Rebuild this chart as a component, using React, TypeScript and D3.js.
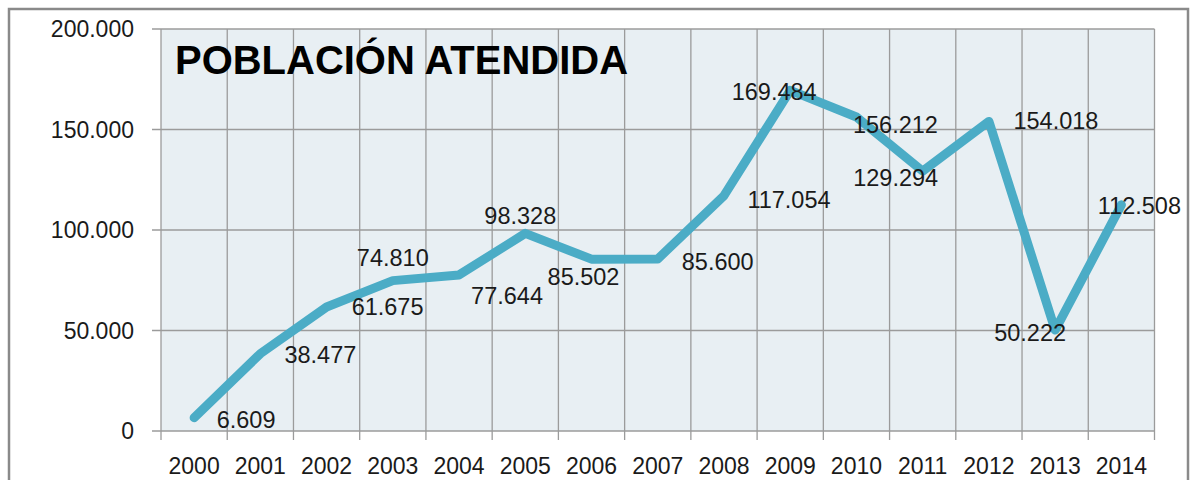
import React from "react";
import * as d3 from "d3";

const years = ["2000","2001","2002","2003","2004","2005","2006","2007","2008","2009","2010","2011","2012","2013","2014"];
const values = [6609, 38477, 61675, 74810, 77644, 98328, 85502, 85600, 117054, 169484, 156212, 129294, 154018, 50222, 112508];
const yTicks = [0, 50000, 100000, 150000, 200000];
const title = "POBLACIÓN ATENDIDA";
// label offsets (dx, dy) relative to point, in px
const labelDx = [52, 60, 61, 0, 48, -5, -8, 60, 65, -16, 39, -27, 67, -25, 18];
const labelDy = [2, 1, 0, -23, 21, -17, 18, 3, 4, 2, 8, 7, 0, 3, 1];

const fmt = (v: number) => {
  const s = Math.round(v).toString();
  return s.replace(/\B(?=(\d{3})+(?!\d))/g, ".");
};

export default function App() {
  const W = 1193, H = 480;
  const left = 161, right = 1154.5, top = 29, bottom = 431;
  const x = d3.scaleBand<string>().domain(years).range([left, right]).padding(0);
  const y = d3.scaleLinear().domain([0, 200000]).range([bottom, top]);
  const cx = (i: number) => (x(years[i]) as number) + x.bandwidth() / 2;
  const line = d3.line<number>().x((_, i) => cx(i)).y((d) => y(d));
  const boundaries = years.map((yr) => x(yr) as number).concat([right]);
  const font = "'Liberation Sans', Arial, sans-serif";
  const grid = "#9b9b9b";
  return (
    <svg width={W} height={H} style={{ position: "absolute", left: 0, top: 0 }} fontFamily={font}>
      <rect x={0} y={0} width={W} height={H} fill="#fff" />
      <rect x={9} y={9} width={1179} height={500} fill="#fff" stroke="#8a8a8a" strokeWidth={2.5} />
      <rect x={left} y={top} width={right - left} height={bottom - top} fill="#E8EFF3" />
      {yTicks.map((t) => (
        <g key={t}>
          <line x1={152} x2={right} y1={y(t)} y2={y(t)} stroke={grid} strokeWidth={1.3} />
          <text x={134} y={y(t)} textAnchor="end" dominantBaseline="central" fontSize={23} fill="#1a1a1a">{fmt(t)}</text>
        </g>
      ))}
      {boundaries.map((b, i) => (
        <line key={i} x1={b} x2={b} y1={top} y2={bottom + 9} stroke={grid} strokeWidth={1.3} />
      ))}
      {years.map((yr, i) => (
        <text key={yr} x={cx(i)} y={474} textAnchor="middle" fontSize={23} fill="#1a1a1a">{yr}</text>
      ))}
      <text x={175} y={73.5} fontSize={41} fontWeight="bold" fill="#000" textLength={453} lengthAdjust="spacingAndGlyphs">{title}</text>
      <path d={line(values) || ""} fill="none" stroke="#4BACC6" strokeWidth={9} strokeLinejoin="round" strokeLinecap="round" />
      {values.map((v, i) => (
        <text key={i} x={cx(i) + labelDx[i]} y={y(v) + labelDy[i]} textAnchor="middle" dominantBaseline="central" fontSize={23.5} fill="#1a1a1a">{fmt(v)}</text>
      ))}
    </svg>
  );
}
